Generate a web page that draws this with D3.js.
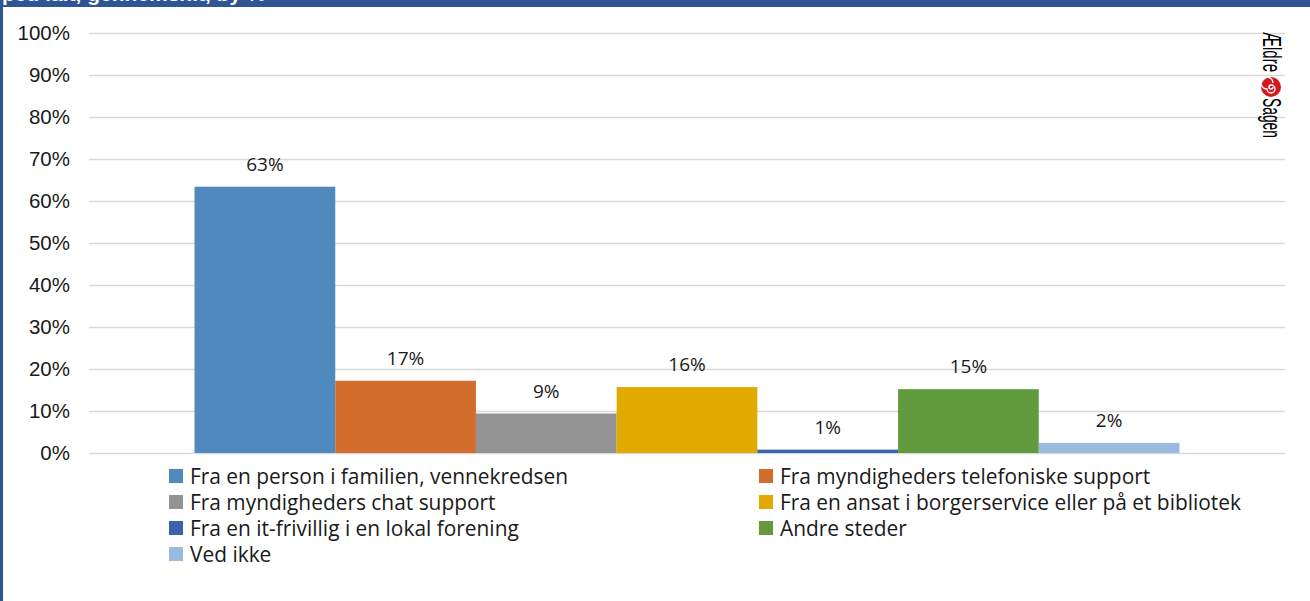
<!DOCTYPE html>
<html>
<head>
<meta charset="utf-8">
<script src="https://cdn.jsdelivr.net/npm/d3@7"></script>
<style>
  html, body { margin: 0; padding: 0; background: #fff; }
  svg { display: block; }
</style>
</head>
<body>
<div id="chart"></div>
<script>
// --- data ----------------------------------------------------------------
const series = [
  'Fra en person i familien, vennekredsen',
  'Fra myndigheders telefoniske support',
  'Fra myndigheders chat support',
  'Fra en ansat i borgerservice eller på et bibliotek',
  'Fra en it-frivillig i en lokal forening',
  'Andre steder',
  'Ved ikke'
]
const values = [63.4, 17.2, 9.4, 15.7, 0.8, 15.2, 2.4]
const colors = ['#4f89bd', '#d26d2b', '#939393', '#e2a900', '#3b63ad', '#629b3e', '#9bbae0']
const yTicks = [0, 10, 20, 30, 40, 50, 60, 70, 80, 90, 100]
const headerText = 'pct. ialt, gennemsnit, by %'

// --- layout ----------------------------------------------------------------
const width = 1310
const height = 601
const plot = { left: 89, right: 1285, top: 33, bottom: 453 }
const frameBlue = '#2f5597'
const labelFont = '"Open Sans", Lato, sans-serif'

const svg = d3.select('#chart').append('svg').attr('width', width).attr('height', height)

// header bar (title mostly cut off) and left frame
svg.append('rect').attr('x', 0).attr('y', 0).attr('width', width).attr('height', 7).attr('fill', frameBlue)
svg.append('text')
  .attr('x', 2).attr('y', 1)
  .attr('fill', '#fff')
  .style('font', 'bold 21px "Liberation Sans", Arial, sans-serif')
  .text(headerText)
svg.append('rect').attr('x', 0).attr('y', 0).attr('width', 3).attr('height', height).attr('fill', frameBlue)

const y = d3.scaleLinear().domain([0, 100]).range([plot.bottom, plot.top])
const x = d3.scaleBand().domain(series).range([plot.left, plot.right]).paddingInner(0).paddingOuter(0.75)
const color = d3.scaleOrdinal().domain(series).range(colors)

// gridlines
svg.append('g')
  .selectAll('line')
  .data(yTicks)
  .join('line')
  .attr('x1', plot.left).attr('x2', plot.right)
  .attr('y1', d => Math.round(y(d)) + 0.5).attr('y2', d => Math.round(y(d)) + 0.5)
  .attr('stroke', '#d9d9d9').attr('stroke-width', 1.3)

// y labels
svg.append('g')
  .selectAll('text')
  .data(yTicks)
  .join('text')
  .attr('x', 70)
  .attr('y', d => y(d))
  .attr('dy', '0.36em')
  .attr('text-anchor', 'end')
  .attr('fill', '#1a1a1a')
  .style('font', '20.5px "Liberation Sans", Arial, sans-serif')
  .text(d => d + '%')

// bars
svg.append('g')
  .selectAll('rect')
  .data(series)
  .join('rect')
  .attr('x', d => x(d))
  .attr('y', (d, i) => y(values[i]))
  .attr('width', x.bandwidth())
  .attr('height', (d, i) => y(0) - y(values[i]))
  .attr('fill', d => color(d))

// data labels
svg.append('g')
  .selectAll('text')
  .data(series)
  .join('text')
  .attr('x', d => x(d) + x.bandwidth() / 2)
  .attr('y', (d, i) => y(values[i]) - 16)
  .attr('text-anchor', 'middle')
  .attr('fill', '#1a1a1a')
  .style('font', `19px ${labelFont}`)
  .text((d, i) => Math.round(values[i]) + '%')

// legend, two columns
const legendCols = [169, 759]
const legend = svg.append('g')
  .selectAll('g')
  .data(series)
  .join('g')
  .attr('transform', (d, i) => `translate(${legendCols[i % 2]},${476 + Math.floor(i / 2) * 26})`)

legend.append('rect')
  .attr('x', 0).attr('y', -7)
  .attr('width', 14).attr('height', 14)
  .attr('fill', d => color(d))

legend.append('text')
  .attr('x', 21)
  .attr('dy', '0.36em')
  .attr('fill', '#1a1a1a')
  .style('font', `20.9px ${labelFont}`)
  .text(d => d)

// Ældre Sagen logo, rotated
const logo = svg.append('g').attr('transform', 'translate(1263,32) rotate(90)')
logo.append('text')
  .attr('x', 0).attr('y', 0)
  .attr('textLength', 40).attr('lengthAdjust', 'spacingAndGlyphs')
  .style('font', '25px "Liberation Sans", Arial, sans-serif')
  .text('Ældre')
logo.append('circle').attr('cx', 55).attr('cy', -8).attr('r', 10).attr('fill', '#d5191f')
logo.append('path')
  .attr('d', 'M55,-8 m0,-2 a2,2 0 1,1 -2,2 a4,4 0 1,1 4,4 a6,6 0 1,1 -6,-6')
  .attr('fill', 'none').attr('stroke', '#fff').attr('stroke-width', 1.4)
logo.append('text')
  .attr('x', 66).attr('y', 0)
  .attr('textLength', 40).attr('lengthAdjust', 'spacingAndGlyphs')
  .style('font', '25px "Liberation Sans", Arial, sans-serif')
  .text('Sagen')
</script>
</body>
</html>
